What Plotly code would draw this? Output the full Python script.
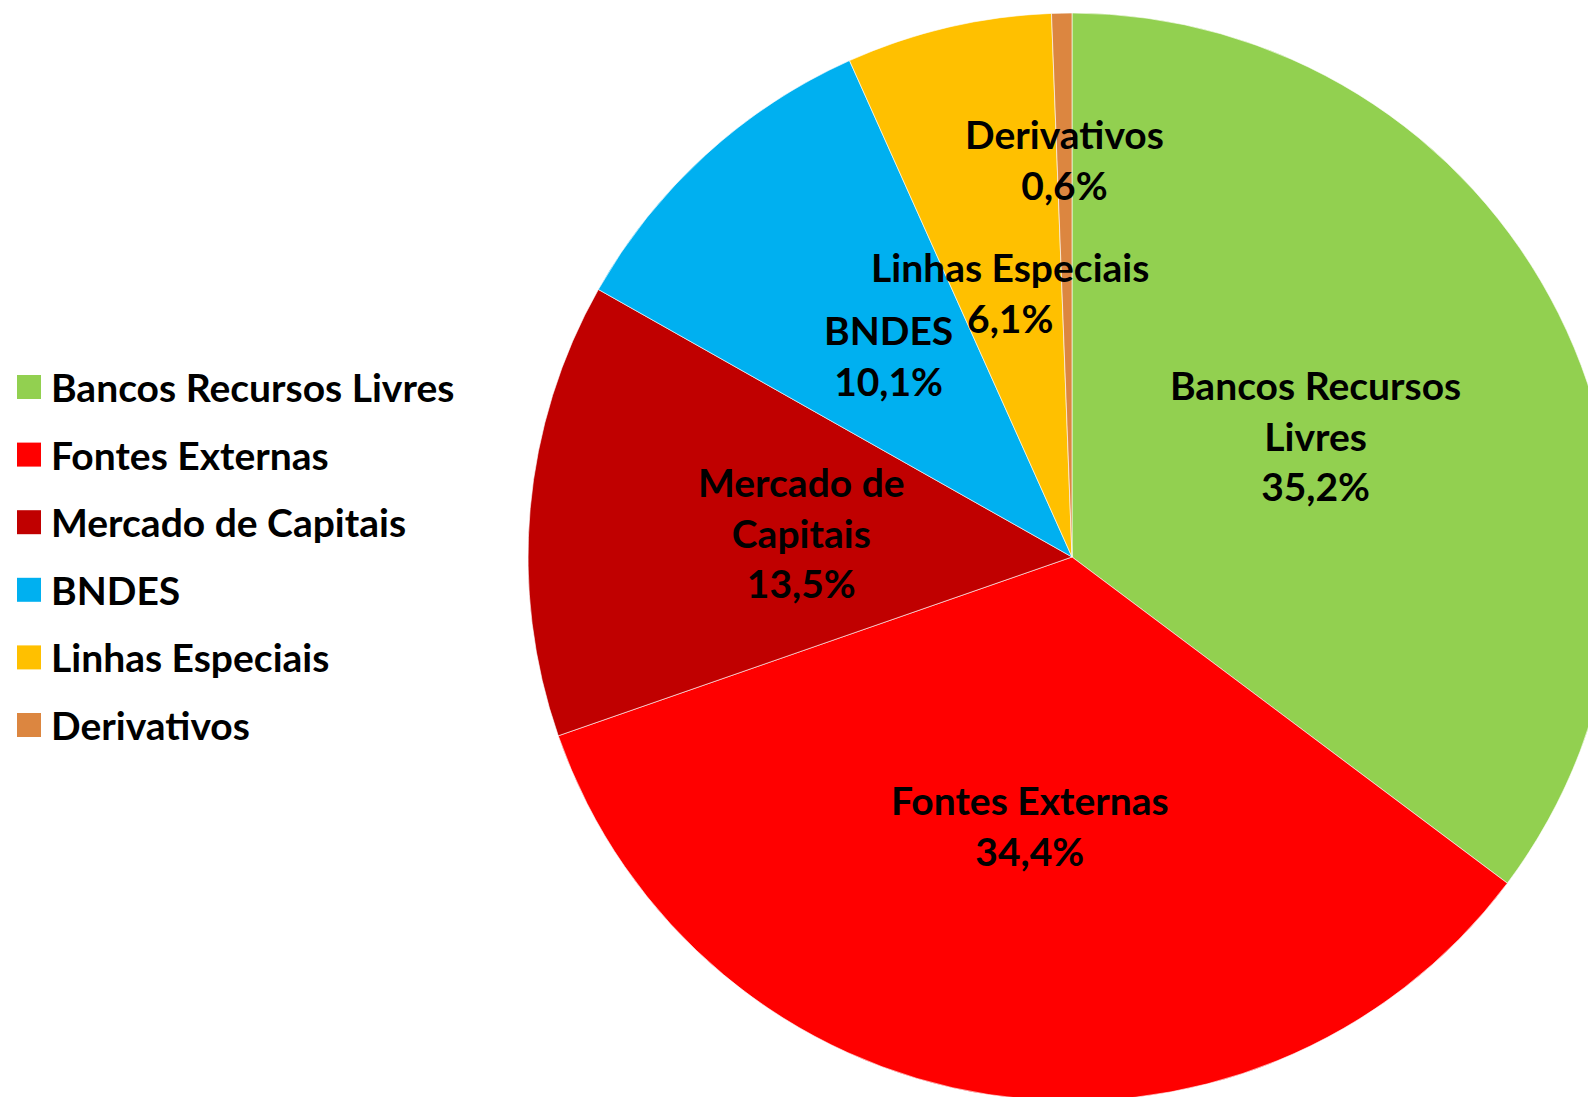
import math
import textwrap
import plotly.graph_objects as go

# ---- data ----
categories = ["Bancos Recursos Livres", "Fontes Externas", "Mercado de Capitais",
              "BNDES", "Linhas Especiais", "Derivativos"]
shares = [35.2, 34.4, 13.5, 10.1, 6.1, 0.6]

# ---- styles ----
colors = ["#92D050", "#FF0000", "#C00000", "#00B0F0", "#FFC000", "#DC8640"]
label_radius = [0.5, 0.5, 0.5, 0.5, 0.5, 0.73]   # fraction of pie radius
FONT = "Lato"
FS = 39

# figure geometry (figure sits at an 8px body offset in the page)
W, H = 1608, 1093
M_T = 5
DOM_X0 = 0.3234


def fmt(v):
    return f"{v:.1f}".replace(".", ",") + "%"


fig = go.Figure(go.Pie(
    labels=categories,
    values=shares,
    sort=False,
    direction="clockwise",
    rotation=0,
    marker=dict(colors=colors, line=dict(color="rgba(255,255,255,0.6)", width=1)),
    textinfo="none",
    hoverinfo="label+percent",
    domain=dict(x=[DOM_X0, 1], y=[0, 1]),
    showlegend=False,
))

# slice labels placed along each slice's mid-angle
total = sum(shares)
cx, cy = (DOM_X0 + 1) / 2, 0.5
rx, ry = (1 - DOM_X0) / 2, 0.5
cum = 0.0
annotations = []
for name, v, f in zip(categories, shares, label_radius):
    mid = (cum + v / 2) / total * 2 * math.pi
    cum += v
    txt = "<br>".join(textwrap.wrap(name, 16) + [fmt(v)])
    annotations.append(dict(
        x=cx + f * rx * math.sin(mid), y=cy + f * ry * math.cos(mid),
        xref="paper", yref="paper", xanchor="center", yanchor="middle",
        text=txt, showarrow=False, align="center",
        font=dict(family=FONT, size=FS, color="black", weight="bold"),
    ))


# manual legend (image pixel layout -> paper coords)
def px2x(px):
    return (px - 8) / W


def py2y(py):
    return 1 - (py - 8 - M_T) / (H - M_T)


shapes = []
LEG_TOP, LEG_STEP, SQ = 375, 67.6, 24
for i, (name, c) in enumerate(zip(categories, colors)):
    top = LEG_TOP + i * LEG_STEP
    shapes.append(dict(type="rect", xref="paper", yref="paper",
                       x0=px2x(17), x1=px2x(17 + SQ), y0=py2y(top + SQ), y1=py2y(top),
                       fillcolor=c, line=dict(width=0)))
    annotations.append(dict(
        x=px2x(49), y=py2y(top + SQ / 2), xref="paper", yref="paper",
        xanchor="left", yanchor="middle", text=name, showarrow=False,
        font=dict(family=FONT, size=FS, color="black", weight="bold"),
    ))

fig.update_layout(
    width=W, height=H,
    margin=dict(l=0, r=0, t=M_T, b=0, pad=0),
    paper_bgcolor="white", plot_bgcolor="white",
    annotations=annotations, shapes=shapes,
    showlegend=False,
)

fig.write_html("out.html")
